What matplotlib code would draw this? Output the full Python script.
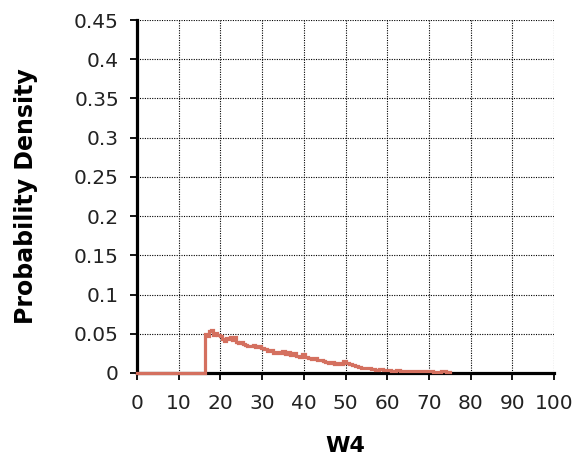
import matplotlib
matplotlib.use("Agg")
import matplotlib.pyplot as plt

# Data
w4_x = [0, 16.3, 16.8, 17.3, 17.8, 18.3, 18.8, 19.3, 19.8, 20.3, 20.8, 21.3, 21.8,
        22.3, 22.8, 23.3, 23.8, 24.3, 24.8, 25.3, 25.8, 26.3, 27.0, 27.7, 28.4,
        29.1, 29.8, 30.5, 31.2, 31.9, 32.6, 33.3, 34.0, 34.7, 35.4, 36.1, 36.8,
        37.5, 38.2, 38.9, 39.6, 40.3, 41.0, 41.7, 42.4, 43.1, 43.8, 44.5, 45.2,
        45.9, 46.6, 47.3, 48.0, 48.7, 49.4, 50.1, 50.8, 51.5, 52.2, 52.9, 53.6,
        54.3, 55.0, 56.0, 57.0, 58.0, 59.0, 60.0, 61.0, 62.0, 63.0, 64.0, 65.0,
        66.0, 67.0, 68.0, 69.0, 70.0, 71.0, 72.0, 73.0, 74.0, 75.0]
density = [0.0, 0.050, 0.047, 0.053, 0.055, 0.049, 0.051, 0.048, 0.047, 0.043,
           0.041, 0.045, 0.043, 0.046, 0.042, 0.046, 0.040, 0.038, 0.039, 0.037,
           0.036, 0.035, 0.034, 0.036, 0.033, 0.034, 0.032, 0.030, 0.028, 0.029,
           0.026, 0.027, 0.025, 0.028, 0.024, 0.027, 0.023, 0.025, 0.022, 0.021,
           0.024, 0.020, 0.019, 0.018, 0.019, 0.017, 0.016, 0.015, 0.014, 0.013,
           0.014, 0.012, 0.013, 0.011, 0.015, 0.013, 0.011, 0.010, 0.009, 0.008,
           0.007, 0.006, 0.006, 0.005, 0.004, 0.005, 0.004, 0.004, 0.003, 0.004,
           0.003, 0.003, 0.003, 0.002, 0.003, 0.002, 0.002, 0.002, 0.001, 0.001,
           0.002, 0.001, 0.001]
x_ticks = [0, 10, 20, 30, 40, 50, 60, 70, 80, 90, 100]
y_ticks = [0, 0.05, 0.1, 0.15, 0.2, 0.25, 0.3, 0.35, 0.4, 0.45]
y_tick_labels = ["0", "0.05", "0.1", "0.15", "0.2", "0.25", "0.3", "0.35", "0.4", "0.45"]

plt.rcParams['font.family'] = ['DejaVu Sans']

fig = plt.figure(figsize=(5.79, 4.65), dpi=100)
ax = fig.add_axes([137/579, 1 - 373/465, (554-137)/579, (373-20)/465])

ax.plot(w4_x, density, drawstyle='steps-post', color='#D4705F', lw=2.3,
        solid_joinstyle='miter', zorder=5, clip_on=False)

ax.set_xlim(0, 100)
ax.set_ylim(0, 0.45)
ax.set_xticks(x_ticks)
ax.set_xticklabels([str(t) for t in x_ticks])
ax.set_yticks(y_ticks)
ax.set_yticklabels(y_tick_labels)

ax.grid(True, color='black', linestyle=(0, (1, 1.2)), lw=0.8)
ax.set_axisbelow(True)

for s in ['top', 'right']:
    ax.spines[s].set_visible(False)
ax.spines['left'].set_linewidth(2.3)
ax.spines['bottom'].set_linewidth(2.3)
ax.spines['left'].set_zorder(4)
ax.spines['bottom'].set_zorder(4)

ax.tick_params(axis='both', direction='out', length=5, width=1.3, labelsize=14.5,
               colors='black', labelcolor='#222222')
ax.tick_params(axis='y', pad=8)
ax.tick_params(axis='x', pad=10)

ax.set_xlabel('W4', fontsize=16, fontweight='bold', labelpad=17)
ax.set_ylabel('Probability Density', fontsize=17, fontweight='bold', labelpad=26)

fig.savefig('out.png', dpi=100, facecolor='white')
